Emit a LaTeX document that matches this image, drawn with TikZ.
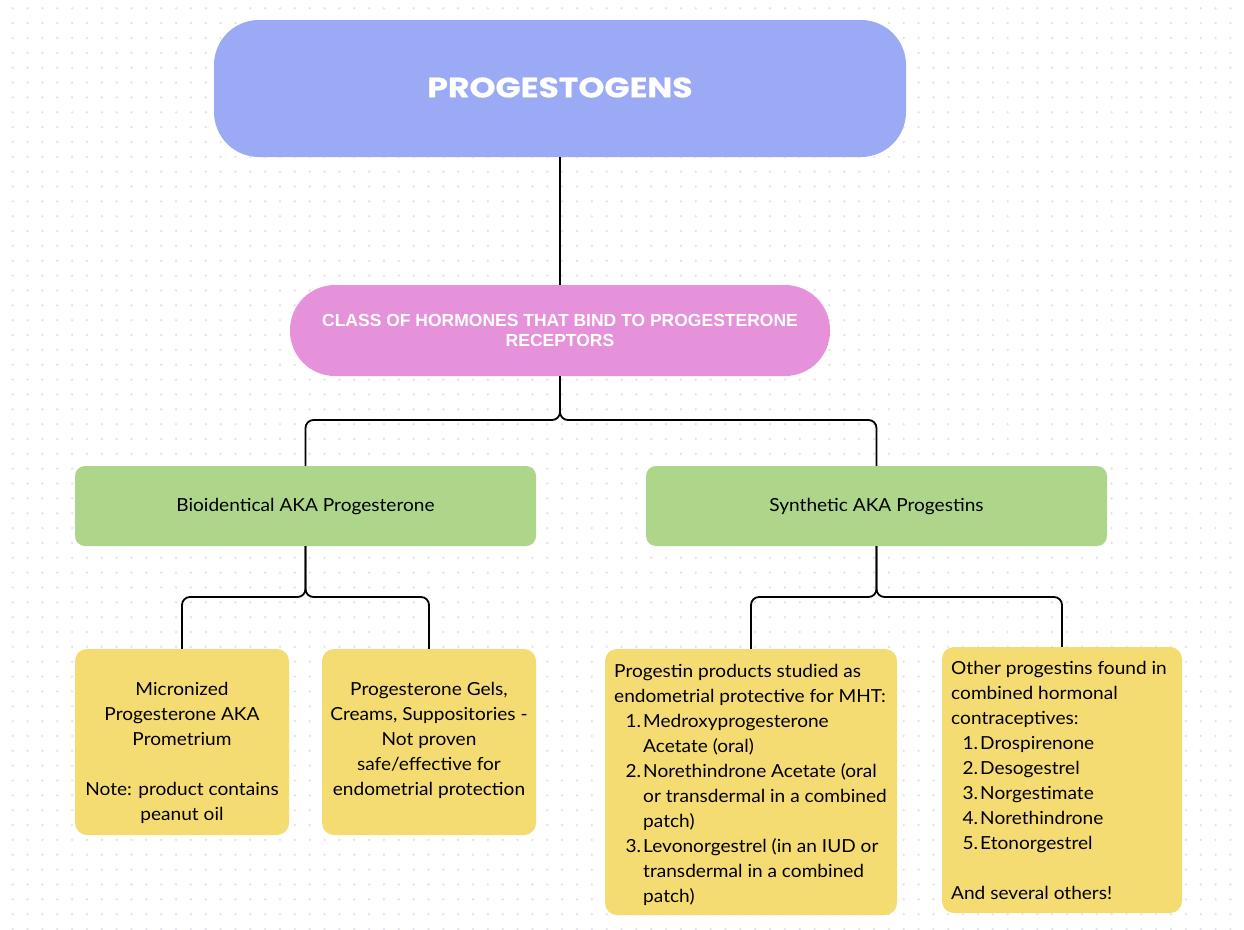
\documentclass[tikz,border=0pt]{standalone}
\usepackage{fontspec}
\setmainfont{Lato}[FakeStretch=1.06]
\newfontfamily\titlefont{Poppins}[FakeStretch=1.18,FakeBold=0.6]
\newfontfamily\pinkfont{Liberation Sans}
\definecolor{bluebox}{RGB}{155,170,245}
\definecolor{pinkbox}{RGB}{229,146,219}
\definecolor{greenbox}{RGB}{174,214,139}
\definecolor{yellowbox}{RGB}{244,220,114}
\definecolor{dotc}{RGB}{226,226,236}
\newcommand{\itm}[2]{\makebox[27pt][r]{#1}\hspace{2pt}#2}
\newcommand{\cnt}[1]{\hspace*{29pt}#1}
\tikzset{
  box/.style={inner sep=0pt, draw=none},
  conn/.style={line width=1.8pt, black, rounded corners=8pt},
  body/.style={inner sep=0pt, font=\fontsize{18}{25}\selectfont},
}
\begin{document}
\begin{tikzpicture}[x=1pt,y=-1pt]
\useasboundingbox (0,0) rectangle (1244,929);
\fill[white] (0,0) rectangle (1244,929);
\foreach \i in {0,...,83}{
  \foreach \j in {0,...,62}{
    \fill[dotc] (12.7+\i*14.85, 8.3+\j*14.85) circle (1.3);
  }
}
% boxes
\node[box, fill=bluebox, minimum width=692, minimum height=137, rounded corners=45pt] (top) at (560,88.5) {};
\node[box, fill=pinkbox, minimum width=540, minimum height=91, rounded corners=45pt] (pink) at (560,330.5) {};
\node[box, fill=greenbox, minimum width=461, minimum height=80, rounded corners=10pt] (gl) at (305.5,506) {};
\node[box, fill=greenbox, minimum width=461, minimum height=80, rounded corners=10pt] (gr) at (876.5,506) {};
\node[box, fill=yellowbox, minimum width=214, minimum height=186, rounded corners=12pt] (y1) at (182,742) {};
\node[box, fill=yellowbox, minimum width=214, minimum height=186, rounded corners=12pt] (y2) at (429,742) {};
\node[box, fill=yellowbox, minimum width=292, minimum height=266, rounded corners=12pt] (y3) at (751,782) {};
\node[box, fill=yellowbox, minimum width=240, minimum height=266, rounded corners=12pt] (y4) at (1062,780) {};
% texts
\node[inner sep=0pt, text=white, font=\titlefont\bfseries\fontsize{28}{32}\selectfont] (ttop) at (560,87.5) {PROGESTOGENS};
\node[inner sep=0pt, text=white, align=center, font=\pinkfont\bfseries\fontsize{17.5}{20}\selectfont] (tpink) at (pink.center) {CLASS OF HORMONES THAT BIND TO PROGESTERONE\\RECEPTORS};
\node[body] (tgl) at (305.5,507) {Bioidentical AKA Progesterone};
\node[body] (tgr) at (876.5,507) {Synthetic AKA Progestins};
\node[body, anchor=north, align=center] (ty1) at (182,677.5) {\strut Micronized\\Progesterone AKA\\Prometrium\\[25pt]Note: product contains\\peanut oil};
\node[body, anchor=north, align=center] (ty2) at (429,677.5) {\strut Progesterone Gels,\\Creams, Suppositories -\\Not proven\\safe/effective for\\endometrial protection};
\node[body, anchor=north west, align=left] (ty3) at (614,659.5) {\strut Progestin products studied as\\endometrial protective for MHT:\\
\itm{1.}{Medroxyprogesterone}\\\cnt{Acetate (oral)}\\
\itm{2.}{Norethindrone Acetate (oral}\\\cnt{or transdermal in a combined}\\\cnt{patch)}\\
\itm{3.}{Levonorgestrel (in an IUD or}\\\cnt{transdermal in a combined}\\\cnt{patch)}};
\node[body, anchor=north west, align=left] (ty4) at (951,656.5) {\strut Other progestins found in\\combined hormonal\\contraceptives:\\
\itm{1.}{Drospirenone}\\\itm{2.}{Desogestrel}\\\itm{3.}{Norgestimate}\\\itm{4.}{Norethindrone}\\\itm{5.}{Etonorgestrel}\\[25pt]And several others!};
% connectors
\coordinate (s1) at (560,420);
\coordinate (s2) at (305.5,597);
\coordinate (s3) at (876.5,597);
\draw[conn] (top.south) -- (pink.north);
\draw[conn] (pink.south) -- (s1) -| (gl.north);
\draw[conn] (pink.south) -- (s1) -| (gr.north);
\draw[conn] (gl.south) -- (s2) -| (y1.north);
\draw[conn] (gl.south) -- (s2) -| (y2.north);
\draw[conn] (gr.south) -- (s3) -| (y3.north);
\draw[conn] (gr.south) -- (s3) -| (y4.north);
\end{tikzpicture}
\end{document}
